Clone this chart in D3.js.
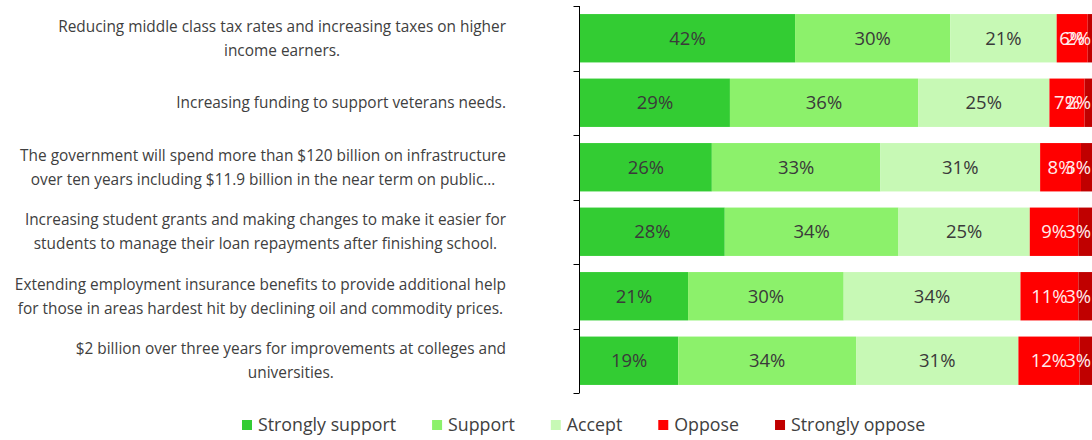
<!DOCTYPE html>
<html>
<head>
<meta charset="utf-8">
<script src="https://cdn.jsdelivr.net/npm/d3@7"></script>
<style>
  body { margin: 0; background: #fff; }
  #chart { width: 1092px; height: 440px; }
</style>
</head>
<body>
<div id="chart"></div>
<script>
const categories = [
  ['Reducing middle class tax rates and increasing taxes on higher', 'income earners.'],
  ['Increasing funding to support veterans needs.'],
  ['The government will spend more than $120 billion on infrastructure', 'over ten years including $11.9 billion in the near term on public\u2026'],
  ['Increasing student grants and making changes to make it easier for', 'students to manage their loan repayments after finishing school.'],
  ['Extending employment  insurance benefits to provide additional help', 'for those in areas hardest hit by declining oil and commodity prices.'],
  ['$2 billion over three years for improvements at colleges and', 'universities.'],
];
const seriesNames = ['Strongly support', 'Support', 'Accept', 'Oppose', 'Strongly oppose'];
const strongSupport = [41.6, 29.0, 25.5, 28.0, 20.9, 19.0];
const support = [30.0, 36.4, 32.6, 33.6, 30.1, 34.4];
const accept = [20.6, 25.4, 30.9, 25.4, 34.2, 31.4];
const oppose = [6.0, 6.8, 7.9, 9.4, 11.2, 11.8];
const strongOppose = [1.8, 2.4, 3.1, 3.4, 3.4, 3.3];
const colors = ['#33cc33', '#8cf16b', '#c7f9b5', '#ff0000', '#c00000'];
const labelColors = ['#3a3a3a', '#3a3a3a', '#3a3a3a', '#ffecec', '#ffecec'];

const allSeries = [strongSupport, support, accept, oppose, strongOppose];
const rows = categories.map((c, i) => {
  const row = {idx: i};
  seriesNames.forEach((s, j) => {
    row[s] = allSeries[j][i];
  });
  return row;
});

const svg = d3.select('#chart').append('svg')
    .attr('width', 1092)
    .attr('height', 440)
    .style('font-family', '"Open Sans", sans-serif');

const xScale = d3.scaleLinear().domain([0, 100]).range([580, 1097]);
const yScale = d3.scaleBand()
    .domain(d3.range(categories.length))
    .range([6, 393])
    .paddingInner(0.25)
    .paddingOuter(0.125);

const stacked = d3.stack().keys(seriesNames)(rows);

const layer = svg.selectAll('g.layer')
    .data(stacked)
    .enter()
    .append('g')
    .attr('class', 'layer')
    .attr('fill', (d, i) => colors[i]);

layer.selectAll('rect')
    .data((d) => d)
    .enter()
    .append('rect')
    .attr('x', (d) => xScale(d[0]))
    .attr('y', (d) => yScale(d.data.idx))
    .attr('width', (d) => xScale(d[1]) - xScale(d[0]))
    .attr('height', yScale.bandwidth());

// value labels, centred in each segment but kept inside the picture
// (they overlap on the small ones, as in the original)
const rightEdge = 1091;
stacked.forEach((s, i) => {
  svg.append('g').selectAll('text')
      .data(s)
      .enter()
      .append('text')
      .attr('y', (d) => yScale(d.data.idx) + yScale.bandwidth() / 2)
      .attr('dy', '0.35em')
      .attr('text-anchor', 'middle')
      .style('font-size', '18.5px')
      .attr('fill', labelColors[i])
      .text((d) => Math.round(d[1] - d[0]) + '%')
      .attr('x', function(d) {
        const w = this.getComputedTextLength();
        return Math.min((xScale(d[0]) + xScale(d[1])) / 2, rightEdge - w / 2);
      });
});

// left axis: line plus ticks at band boundaries
const axisX = 579.5;
const y0 = yScale.range()[0];
const y1 = yScale.range()[1];
const axis = svg.append('g').attr('stroke', '#000').attr('stroke-width', 1);
axis.append('line')
    .attr('x1', axisX).attr('x2', axisX)
    .attr('y1', y0).attr('y2', y1);
d3.range(categories.length + 1).forEach((i) => {
  const ty = Math.round(y0 + i * yScale.step()) + 0.5;
  axis.append('line')
      .attr('x1', axisX - 6).attr('x2', axisX)
      .attr('y1', ty).attr('y2', ty);
});

// category labels: lines centred on each other, block right-aligned against the axis
const labelRight = 506;
categories.forEach((lines, i) => {
  const g = svg.append('g');
  const cy = yScale(i) + yScale.bandwidth() / 2;
  const texts = lines.map((line, k) => g.append('text')
      .attr('y', cy + (k - (lines.length - 1) / 2) * 24)
      .attr('dy', '0.35em')
      .attr('text-anchor', 'middle')
      .style('font-size', '15.4px')
      .attr('fill', '#404040')
      .text(line));
  const maxW = d3.max(texts, (t) => t.node().getComputedTextLength());
  texts.forEach((t) => t.attr('x', labelRight - maxW / 2));
});

// legend
const legend = svg.append('g').attr('transform', 'translate(242, 425)');
let lx = 0;
seriesNames.forEach((name, i) => {
  legend.append('rect')
      .attr('x', lx)
      .attr('y', -5)
      .attr('width', 10)
      .attr('height', 10)
      .attr('fill', colors[i]);
  const t = legend.append('text')
      .attr('x', lx + 16)
      .attr('dy', '0.35em')
      .style('font-size', '17.8px')
      .attr('fill', '#404040')
      .text(name);
  lx += 16 + t.node().getComputedTextLength() + 36;
});
</script>
</body>
</html>
